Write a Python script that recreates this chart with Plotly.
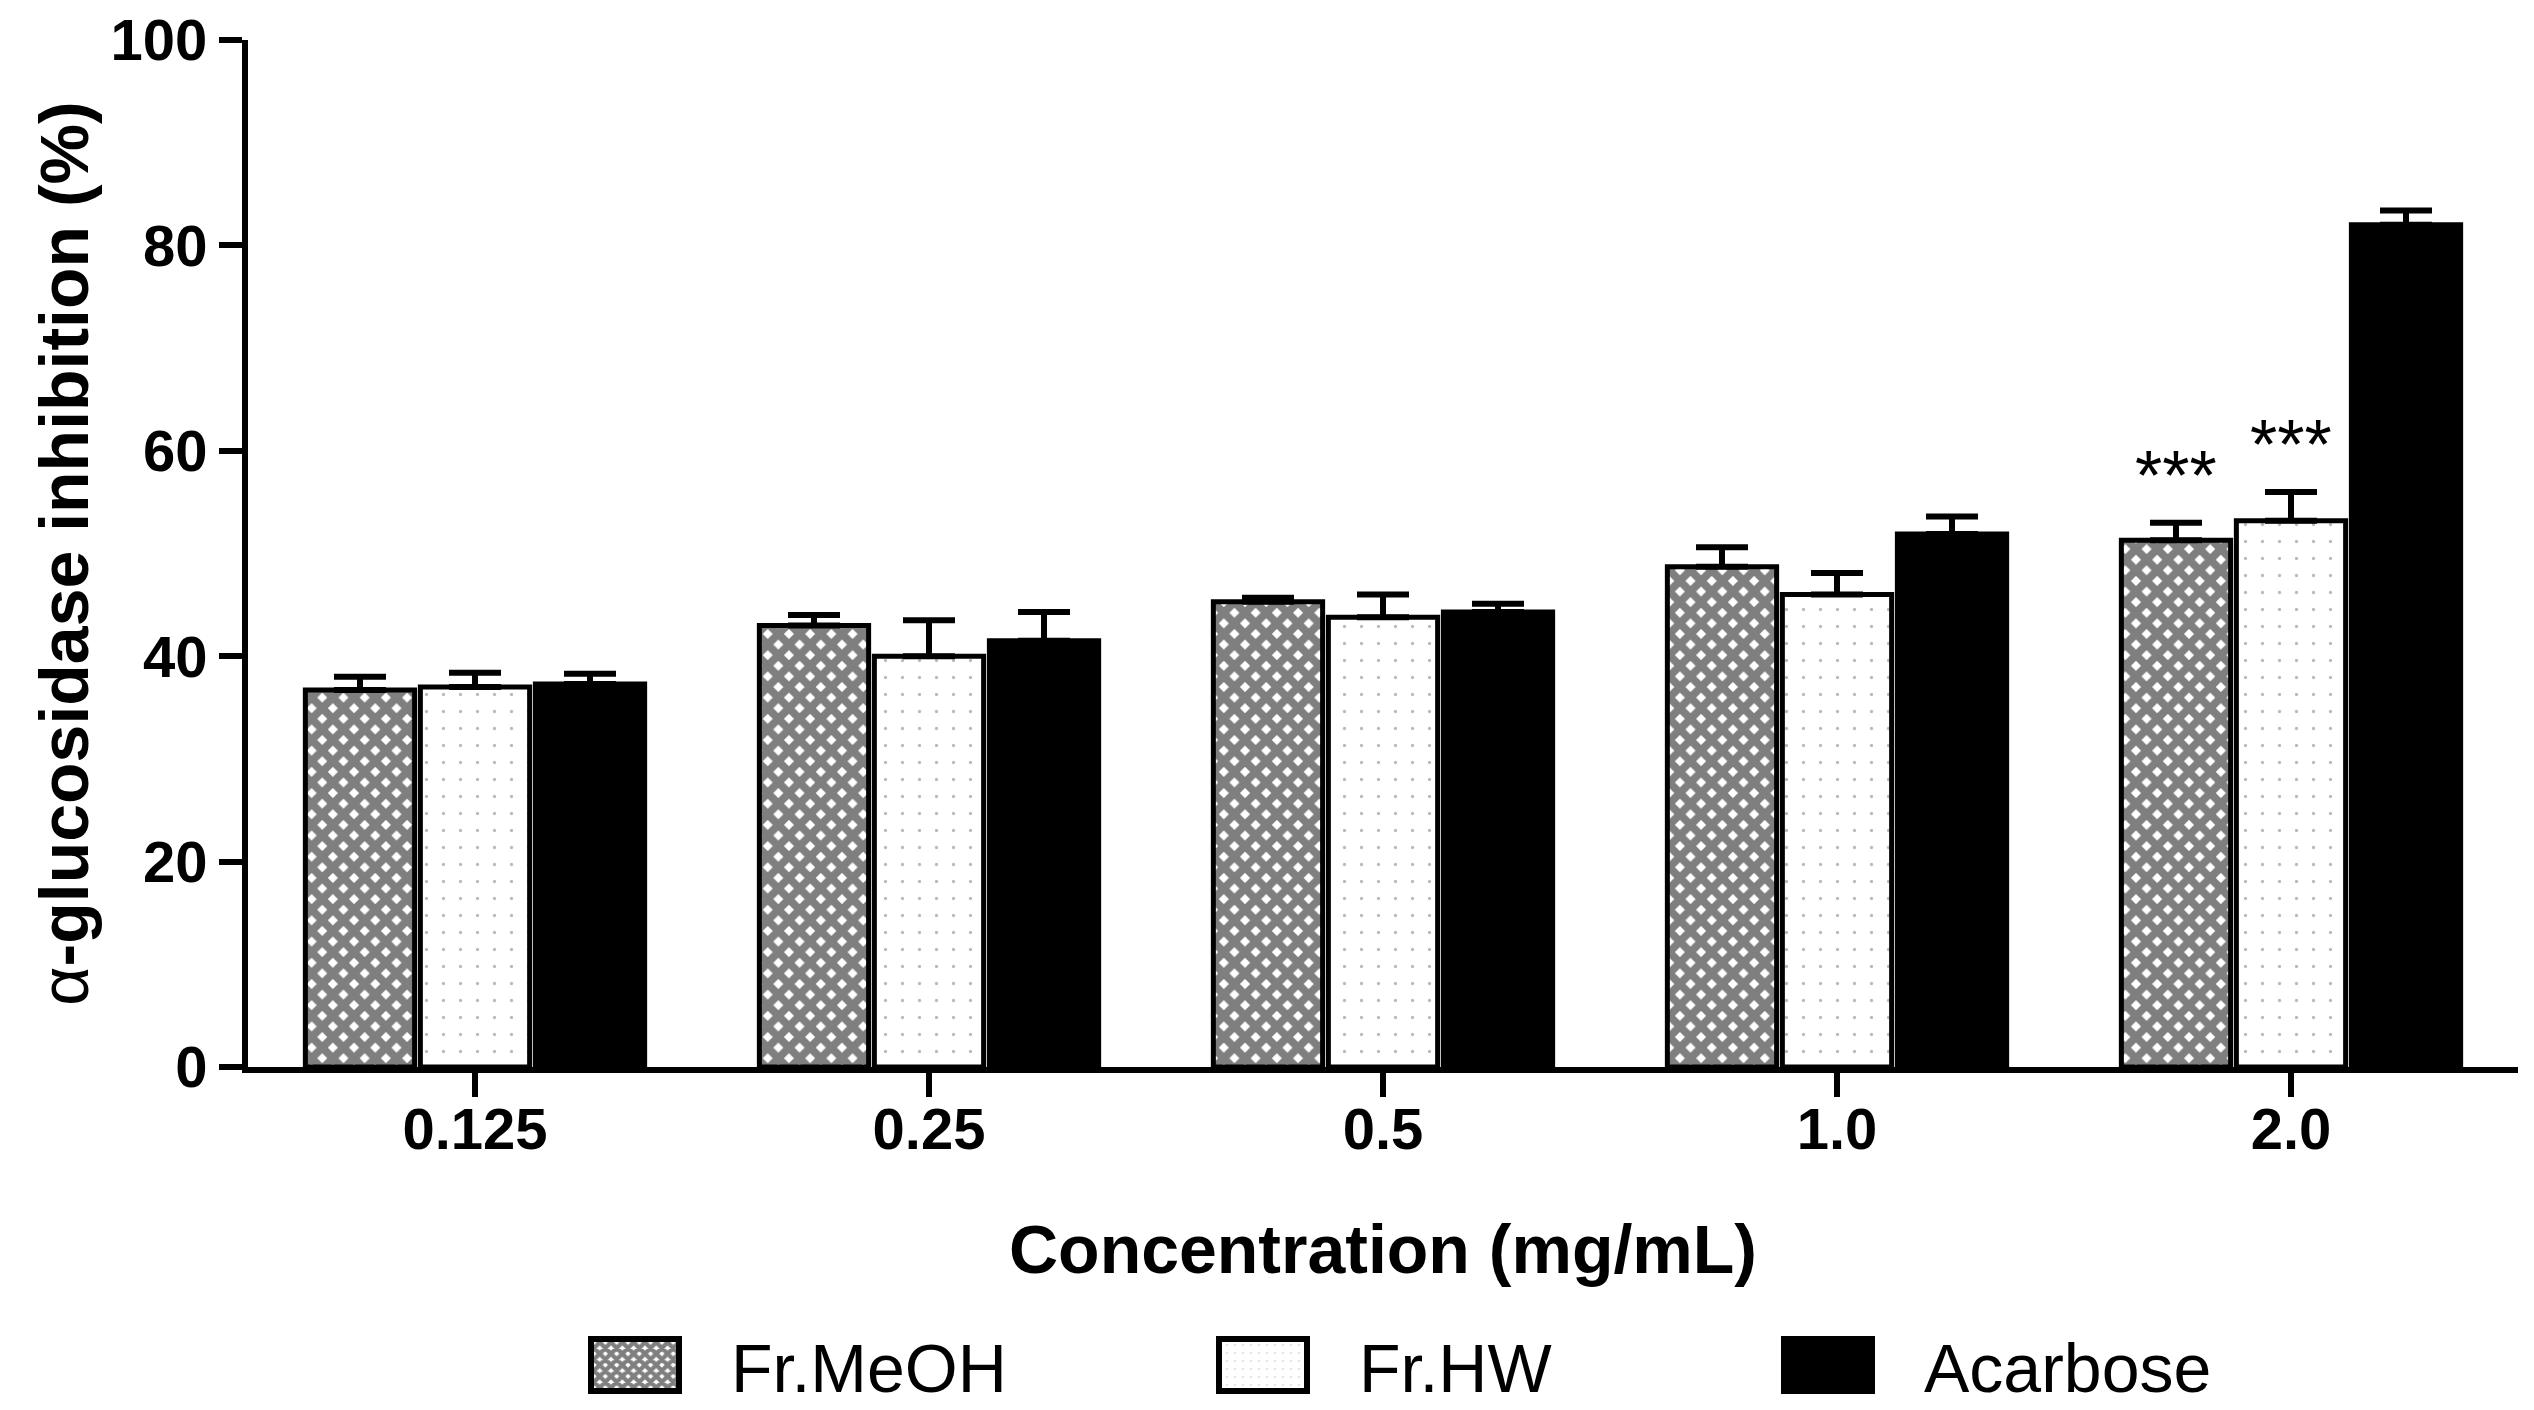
import plotly.graph_objects as go

categories = ["0.125", "0.25", "0.5", "1.0", "2.0"]
series_names = ["Fr.MeOH", "Fr.HW", "Acarbose"]
meoh = [36.7, 43.0, 45.3, 48.7, 51.3]
meoh_err = [1.3, 1.0, 0.4, 1.9, 1.7]
hw = [37.0, 40.0, 43.8, 46.0, 53.2]
hw_err = [1.4, 3.5, 2.2, 2.1, 2.8]
acarbose = [37.3, 41.5, 44.3, 51.9, 82.0]
acarbose_err = [1.0, 2.8, 0.8, 1.7, 1.4]
y_ticks = [0, 20, 40, 60, 80, 100]
signif = {("Fr.MeOH", "2.0"): "***", ("Fr.HW", "2.0"): "***"}

FONT = "Liberation Sans, Arial, sans-serif"
values = [meoh, hw, acarbose]
errors = [meoh_err, hw_err, acarbose_err]
patterns = [
    dict(shape="x", size=15, solidity=0.78, fgcolor="black", bgcolor="white", fillmode="overlay"),
    dict(shape=".", size=17, solidity=0.03, fgcolor="#777777", bgcolor="white", fillmode="overlay"),
    None,
]
colors = ["white", "white", "black"]

fig = go.Figure()
for name, v, e, pat, col in zip(series_names, values, errors, patterns, colors):
    marker = dict(color=col, line=dict(color="black", width=5))
    if pat is not None:
        marker["pattern"] = pat
    fig.add_trace(go.Bar(
        x=categories, y=v, name=name, marker=marker,
        error_y=dict(type="data", array=e, arrayminus=[0] * len(e), symmetric=False,
                     color="black", thickness=6, width=26),
    ))

bargap = 0.24
slot = (1 - bargap) / len(series_names)
annotations = []
for (sname, cat), txt in signif.items():
    si = series_names.index(sname)
    ci = categories.index(cat)
    xpos = ci + (si - (len(series_names) - 1) / 2) * slot
    annotations.append(dict(x=xpos, y=values[si][ci] + errors[si][ci], xref="x", yref="y",
                            text=txt, showarrow=False, yanchor="bottom", yshift=6,
                            font=dict(family=FONT, size=70, color="black")))

fig.update_layout(
    width=2534, height=1410,
    margin=dict(l=248, r=16, t=40, b=343, autoexpand=False),
    paper_bgcolor="white", plot_bgcolor="white",
    barmode="group", bargap=bargap, bargroupgap=0.05,
    annotations=annotations,
    legend=dict(orientation="h", x=0.5, xanchor="center", y=-0.2, yanchor="top",
                font=dict(family=FONT, size=68, color="black"),
                entrywidth=520, entrywidthmode="pixels", bgcolor="rgba(0,0,0,0)"),
    font=dict(family=FONT, color="black"),
)
fig.update_xaxes(
    type="category", range=[-0.5, len(categories) - 0.5],
    showline=True, linecolor="black", linewidth=6, mirror=False,
    ticks="outside", ticklen=24, tickwidth=6, tickcolor="black",
    ticklabelstandoff=-18,
    tickfont=dict(family=FONT, size=58, color="black", weight="bold"),
    title=dict(text="Concentration (mg/mL)", standoff=68,
               font=dict(family=FONT, size=68, color="black", weight="bold")),
    showgrid=False, zeroline=False,
)
fig.update_yaxes(
    range=[0, 100], tickvals=y_ticks,
    showline=True, linecolor="black", linewidth=6,
    ticks="outside", ticklen=23, tickwidth=6, tickcolor="black",
    tickfont=dict(family=FONT, size=58, color="black", weight="bold"),
    title=dict(text="<span style='font-weight:normal'>α</span>-glucosidase inhibition (%)", standoff=2,
               font=dict(family=FONT, size=68, color="black", weight="bold")),
    showgrid=False, zeroline=False,
)

post = """
(function(){
  document.body.style.margin='0';
  var gd = document.getElementById('{plot_id}');
  var leg = gd.querySelector('g.legend');
  if(!leg) return;
  var sb = leg.querySelector('g.scrollbox');
  if(sb) sb.removeAttribute('clip-path');
  var W = 88, H = 52, GAP = 52;
  var offsets = [0, 628, 1193];
  var items = leg.querySelectorAll('g.traces');
  items.forEach(function(it, i){
    var p = it.querySelector('g.legendpoints path');
    if(p){
      var tr = p.getAttribute('transform') || '';
      var m = /translate\\(([-\\d.]+)/.exec(tr);
      var cx = m ? parseFloat(m[1]) : 20;
      p.setAttribute('d', 'M'+(-cx)+','+(-H/2)+'H'+(W-cx)+'V'+(H/2)+'H'+(-cx)+'Z');
      p.style.strokeWidth = '6px';
    }
    var t = it.querySelector('text.legendtext');
    var tw = 0;
    if(t){ t.setAttribute('x', W + GAP); tw = t.getComputedTextLength(); }
    var bg = it.querySelector('rect.legendtoggle');
    if(bg) bg.setAttribute('width', W + GAP + tw);
    var x0 = offsets[i] !== undefined ? offsets[i] : i * 600;
    it.setAttribute('transform', 'translate(' + x0 + ',0)');
  });
  leg.setAttribute('transform', 'translate(591,1365)');
})();
"""

fig.write_html("out.html", post_script=post, config={"displayModeBar": False})
